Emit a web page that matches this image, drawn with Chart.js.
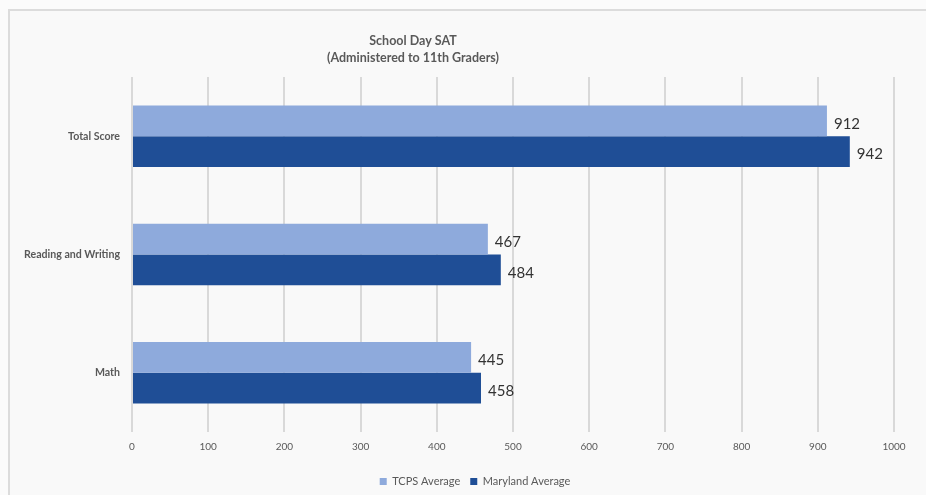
<!DOCTYPE html>
<html>
<head>
<meta charset="utf-8">
<script src="https://cdn.jsdelivr.net/npm/chart.js@4.4.1/dist/chart.umd.min.js"></script>
<style>
  html, body { margin: 0; padding: 0; background: #fbfbfb; width: 926px; height: 495px; overflow: hidden; }
  #frame { position: absolute; left: 8px; top: 9px; width: 934px; height: 486px;
           border-top: 2px solid #dcdcdc; border-left: 2px solid #dcdcdc; background: #f9f9f9; box-sizing: border-box; }
  #wrap { position: absolute; left: 0; top: 0; width: 932px; height: 484px; }
</style>
</head>
<body>
<div id="frame"><div id="wrap"><canvas id="c"></canvas></div></div>
<script>
const titleLines = ['School Day SAT', '(Administered to 11th Graders)'];
const categories = ['Total Score', 'Reading and Writing', 'Math'];
const seriesNames = ['TCPS Average', 'Maryland Average'];
const tcpsValues = [912, 467, 445];
const marylandValues = [942, 484, 458];
const xTicks = [0, 100, 200, 300, 400, 500, 600, 700, 800, 900, 1000];

const FONT = 'Lato, "Open Sans", sans-serif';
const GREY = '#595959';

const titlePlugin = {
  id: 'offsetTitle',
  afterDraw(chart) {
    const ctx = chart.ctx;
    ctx.save();
    ctx.fillStyle = GREY;
    ctx.font = 'bold 12.5px ' + FONT;
    ctx.textAlign = 'center';
    ctx.textBaseline = 'middle';
    ctx.fillText(titleLines[0], 403, 30);
    ctx.fillText(titleLines[1], 403, 47);
    ctx.restore();
  }
};

const legendShift = {
  id: 'legendShift',
  afterLayout(chart) {
    const lg = chart.legend;
    if (!lg) return;
    lg.left += 23; lg.right += 23;
    lg.top += 2; lg.bottom += 2;
  }
};

const valueLabels = {
  id: 'valueLabels',
  afterDatasetsDraw(chart) {
    const ctx = chart.ctx;
    ctx.save();
    ctx.fillStyle = '#333333';
    ctx.font = '15px ' + FONT;
    ctx.textAlign = 'left';
    ctx.textBaseline = 'middle';
    chart.data.datasets.forEach((ds, di) => {
      chart.getDatasetMeta(di).data.forEach((bar, i) => {
        ctx.fillText(String(ds.data[i]), bar.x + 7, bar.y + 3);
      });
    });
    ctx.restore();
  }
};

new Chart(document.getElementById('c'), {
  type: 'bar',
  data: {
    labels: categories,
    datasets: [
      { label: seriesNames[0], data: tcpsValues, backgroundColor: '#8eaadc', barPercentage: 1.0, categoryPercentage: 0.52 },
      { label: seriesNames[1], data: marylandValues, backgroundColor: '#1f4e96', barPercentage: 1.0, categoryPercentage: 0.52 }
    ]
  },
  options: {
    indexAxis: 'y',
    responsive: true,
    maintainAspectRatio: false,
    animation: false,
    devicePixelRatio: 1,
    layout: { padding: { top: 66, right: 48, left: 0, bottom: 0 } },
    scales: {
      x: {
        min: 0, max: 1000,
        afterBuildTicks(scale) { scale.ticks = xTicks.map(v => ({ value: v })); },
        afterFit(scale) { scale.height = 32; },
        grid: { color: '#d9d9d9', lineWidth: 2, drawTicks: false },
        border: { display: false },
        ticks: { color: GREY, font: { family: FONT, size: 10 }, padding: 9, maxRotation: 0,
                 callback: (v) => String(v) }
      },
      y: {
        afterFit(scale) { scale.width = 122; },
        grid: { display: false, drawTicks: false },
        border: { display: false },
        ticks: { color: GREY, font: { family: FONT, size: 10.6, weight: 'bold' }, padding: 12 }
      }
    },
    plugins: {
      title: { display: false },
      tooltip: { enabled: false },
      legend: {
        position: 'bottom',
        labels: { color: GREY, font: { family: FONT, size: 11 }, boxWidth: 7, boxHeight: 7, padding: 10 }
      }
    }
  },
  plugins: [titlePlugin, legendShift, valueLabels]
});
</script>
</body>
</html>
